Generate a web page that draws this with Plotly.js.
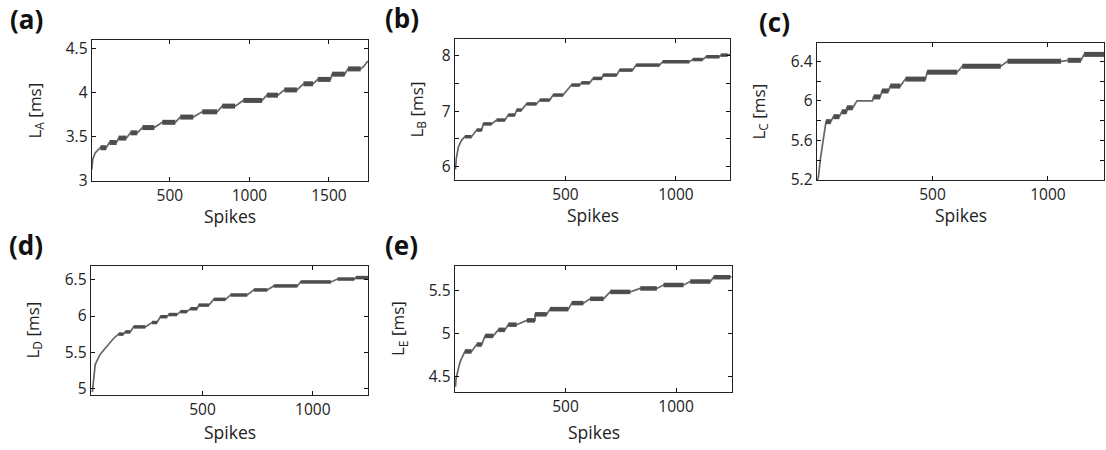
<!DOCTYPE html>
<html>
<head>
<meta charset="utf-8">
<script src="https://cdn.plot.ly/plotly-3.0.1.min.js"></script>
<style>html,body{margin:0;padding:0;background:#fff;}#chart{width:1106px;height:450px;}</style>
</head>
<body>
<div id="chart"></div>
<script>
// ---------- data ----------
const panelLabels = ['(a)', '(b)', '(c)', '(d)', '(e)'];
const yTitles = ['L<sub>A</sub> [ms]', 'L<sub>B</sub> [ms]', 'L<sub>C</sub> [ms]', 'L<sub>D</sub> [ms]', 'L<sub>E</sub> [ms]'];
const xTitle = 'Spikes';

// panel (a)
const aStartX = [8, 15, 30, 50];
const aStartY = [3.12, 3.24, 3.31, 3.35];
const aBlkX0 = [63, 120, 177, 252, 327, 452, 565, 703, 829, 962, 1110, 1220, 1340, 1430, 1520, 1620];
const aBlkX1 = [100, 165, 226, 295, 402, 534, 647, 797, 910, 1080, 1180, 1300, 1400, 1510, 1600, 1700];
const aBlkY  = [3.37, 3.43, 3.48, 3.54, 3.60, 3.66, 3.72, 3.78, 3.845, 3.91, 3.97, 4.03, 4.10, 4.15, 4.21, 4.27];
const aEndX = [1720, 1745];
const aEndY = [4.30, 4.36];

// panel (b)
const bStartX = [2, 6, 15, 30];
const bStartY = [5.95, 6.15, 6.35, 6.48];
const bBlkX0 = [45, 98, 128, 188, 241, 279, 324, 384, 444, 527, 572, 625, 670, 745, 820, 940, 1076, 1137, 1204];
const bBlkX1 = [75, 121, 166, 226, 271, 301, 369, 429, 489, 565, 610, 665, 732, 804, 926, 1061, 1121, 1197, 1234];
const bBlkY  = [6.54, 6.66, 6.77, 6.84, 6.93, 7.02, 7.13, 7.20, 7.29, 7.47, 7.51, 7.59, 7.65, 7.74, 7.83, 7.89, 7.93, 7.98, 8.01];
const bEndX = [1245];
const bEndY = [8.02];

// panel (c)
const cStartX = [2, 6, 16, 27];
const cStartY = [5.20, 5.23, 5.435, 5.60];
const cBlkX0 = [39, 71, 107, 129, 245, 281, 317, 383, 477, 629, 825, 1086, 1157];
const cBlkX1 = [60, 97, 129, 155, 274, 310, 361, 470, 607, 796, 1057, 1143, 1243];
const cBlkY  = [5.79, 5.84, 5.89, 5.93, 6.04, 6.10, 6.15, 6.22, 6.29, 6.35, 6.40, 6.41, 6.47];
const cKneeX = [173, 240];
const cKneeY = [6.00, 6.00];
const cEndX = [1243];
const cEndY = [6.47];

// panel (d)
const dStartX = [1, 5, 14, 36, 67, 100];
const dStartY = [4.95, 5.05, 5.33, 5.47, 5.58, 5.70];
const dBlkX0 = [120, 150, 188, 271, 309, 347, 400, 445, 483, 551, 627, 733, 823, 945, 1112, 1195];
const dBlkX1 = [142, 173, 241, 294, 340, 385, 430, 476, 529, 605, 703, 794, 930, 1082, 1188, 1249];
const dBlkY  = [5.75, 5.78, 5.85, 5.91, 5.99, 6.02, 6.06, 6.10, 6.15, 6.23, 6.29, 6.36, 6.415, 6.47, 6.51, 6.53];
const dEndX = [1250];
const dEndY = [6.55];

// panel (e)
const eStartX = [2, 5, 23];
const eStartY = [4.38, 4.48, 4.67];
const eBlkX0 = [45, 98, 136, 196, 241, 325, 362, 430, 528, 611, 702, 838, 943, 1064, 1170];
const eBlkX1 = [75, 121, 173, 226, 279, 362, 415, 513, 581, 672, 793, 913, 1034, 1155, 1245];
const eBlkY  = [4.79, 4.87, 4.97, 5.04, 5.10, 5.15, 5.22, 5.28, 5.35, 5.40, 5.48, 5.52, 5.56, 5.60, 5.65];
const eEndX = [1250];
const eEndY = [5.66];

// tick values (major labelled, minor unlabelled)
const aYTicks = [3, 3.5, 4, 4.5];           const aYMinor = [];
const bYTicks = [6, 7, 8];                   const bYMinor = [6.5, 7.5];
const cYTicks = [5.2, 5.6, 6, 6.4];          const cYMinor = [5.4, 5.8, 6.2];
const dYTicks = [5, 5.5, 6, 6.5];            const dYMinor = [];
const eYTicks = [4.5, 5, 5.5];               const eYMinor = [];
const aXTicks = [500, 1000, 1500];
const otherXTicks = [500, 1000];

// ---------- build ----------
const panels = [
  {sx: aStartX, sy: aStartY, x0: aBlkX0, x1: aBlkX1, by: aBlkY, kx: [], ky: [], ex: aEndX, ey: aEndY,
   yt: aYTicks, ym: aYMinor, xt: aXTicks, xr: [10, 1746], yr: [2.99, 4.60], bw: 5,
   px: [92, 368], py: [40, 181], lab: 84, tit: 57, xo: 35},
  {sx: bStartX, sy: bStartY, x0: bBlkX0, x1: bBlkX1, by: bBlkY, kx: [], ky: [], ex: bEndX, ey: bEndY,
   yt: bYTicks, ym: bYMinor, xt: otherXTicks, xr: [0, 1245], yr: [5.76, 8.30], bw: 3.5,
   px: [455, 730], py: [39, 180], lab: 72, tit: 38, xo: 35},
  {sx: cStartX, sy: cStartY, x0: cBlkX0, x1: cBlkX1, by: cBlkY, kx: cKneeX, ky: cKneeY, ex: cEndX, ey: cEndY,
   yt: cYTicks, ym: cYMinor, xt: otherXTicks, xr: [0, 1243], yr: [5.2, 6.585], bw: 5,
   px: [817, 1104], py: [43, 180], lab: 60, tit: 58, xo: 35},
  {sx: dStartX, sy: dStartY, x0: dBlkX0, x1: dBlkX1, by: dBlkY, kx: [], ky: [], ex: dEndX, ey: dEndY,
   yt: dYTicks, ym: dYMinor, xt: otherXTicks, xr: [-5, 1250], yr: [4.91, 6.69], bw: 3.5,
   px: [91, 368], py: [266, 395], lab: 84, tit: 58, xo: 37},
  {sx: eStartX, sy: eStartY, x0: eBlkX0, x1: eBlkX1, by: eBlkY, kx: [], ky: [], ex: eEndX, ey: eEndY,
   yt: eYTicks, ym: eYMinor, xt: otherXTicks, xr: [0, 1253], yr: [4.32, 5.78], bw: 4.5,
   px: [455, 732], py: [266, 392], lab: 72, tit: 57, xo: 40}
];

const W = 1106, H = 450;
const FONT = 'Open Sans, Noto Sans, sans-serif';
const traces = [];
const layout = {
  width: W, height: H,
  margin: {l: 0, r: 0, t: 0, b: 0},
  paper_bgcolor: '#fff', plot_bgcolor: '#fff',
  showlegend: false,
  font: {family: FONT, color: '#222', size: 15},
  annotations: []
};

panels.forEach((p, i) => {
  const n = i === 0 ? '' : String(i + 1);
  const xa = 'x' + n, ya = 'y' + n;
  // thin curve: start points, block ends, knees, end points (sorted by x)
  let pts = [];
  p.sx.forEach((v, k) => pts.push([v, p.sy[k]]));
  p.x0.forEach((v, k) => { pts.push([v, p.by[k]]); pts.push([p.x1[k], p.by[k]]); });
  p.kx.forEach((v, k) => pts.push([v, p.ky[k]]));
  p.ex.forEach((v, k) => pts.push([v, p.ey[k]]));
  pts.sort((u, v) => u[0] - v[0]);
  traces.push({x: pts.map(q => q[0]), y: pts.map(q => q[1]), xaxis: xa, yaxis: ya,
    type: 'scatter', mode: 'lines', line: {color: '#666', width: 1.7}, hoverinfo: 'skip'});
  // thick blocks
  const bx = [], byv = [];
  p.x0.forEach((v, k) => { bx.push(v, p.x1[k], null); byv.push(p.by[k], p.by[k], null); });
  traces.push({x: bx, y: byv, xaxis: xa, yaxis: ya, type: 'scatter', mode: 'lines',
    line: {color: '#4d4d4d', width: p.bw}, hoverinfo: 'skip'});

  const axCommon = {showline: true, linecolor: '#222', linewidth: 1.4, mirror: 'ticks',
    ticks: 'inside', ticklen: 4, tickwidth: 1, tickcolor: '#111', showgrid: false, zeroline: false,
    tickfont: {family: FONT, size: 15.5, color: '#222'}, fixedrange: true};
  layout['xaxis' + n] = Object.assign({}, axCommon, {
    domain: [p.px[0] / W, p.px[1] / W], range: p.xr, tickmode: 'array', tickvals: p.xt,
    anchor: ya});
  const yax = Object.assign({}, axCommon, {
    domain: [1 - p.py[1] / H, 1 - p.py[0] / H], range: p.yr, tickmode: 'array',
    tickvals: p.yt, anchor: xa});
  if (p.ym.length) {
    yax.minor = {tickmode: 'array', tickvals: p.ym, ticks: 'inside', ticklen: 4, tickwidth: 1,
      tickcolor: '#111', showgrid: false};
  }
  layout['yaxis' + n] = yax;

  // panel label
  layout.annotations.push({text: '<b>' + panelLabels[i] + '</b>', xref: 'paper', yref: 'paper',
    x: (p.px[0] - p.lab) / W, y: 1 - (p.py[0] - 21) / H,
    xanchor: 'left', yanchor: 'middle', showarrow: false,
    font: {family: FONT, size: 26, color: '#111'}});
  // y title
  layout.annotations.push({text: yTitles[i], xref: 'paper', yref: 'paper',
    x: (p.px[0] - p.tit) / W, y: 1 - ((p.py[0] + p.py[1]) / 2) / H, textangle: -90,
    xanchor: 'center', yanchor: 'middle', showarrow: false,
    font: {family: FONT, size: 17, color: '#222'}});
  // x title
  layout.annotations.push({text: xTitle, xref: 'paper', yref: 'paper',
    x: ((p.px[0] + p.px[1]) / 2) / W, y: 1 - (p.py[1] + p.xo) / H,
    xanchor: 'center', yanchor: 'middle', showarrow: false,
    font: {family: FONT, size: 17.5, color: '#222'}});
});

Plotly.newPlot('chart', traces, layout, {displayModeBar: false, staticPlot: true});
</script>
</body>
</html>
